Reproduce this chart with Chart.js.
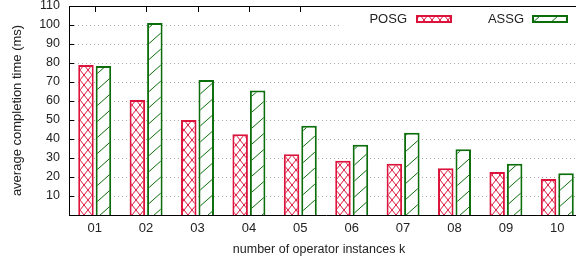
<!DOCTYPE html>
<html lang="en">
<head>
  <meta charset="UTF-8" />
  <title>Completion time</title>
  <script src="https://cdn.jsdelivr.net/npm/chart.js"></script>
  <style>
    html, body { margin: 0; padding: 0; background: #fff; overflow: hidden; width: 576px; height: 262px; }
    #wrap { width: 584px; height: 262px; }
  </style>
</head>
<body>
  <div id="wrap"><canvas id="chart" width="584" height="262"></canvas></div>

  <script>
    const categories = ['01', '02', '03', '04', '05', '06', '07', '08', '09', '10'];
    const posgValues = [79, 60.5, 50, 42.5, 32, 28.5, 27, 24.6, 22.6, 19];
    const assgValues = [78.4, 101, 71, 65.5, 47, 37, 43.3, 34.6, 27, 22];
    const yTicks = [10, 20, 30, 40, 50, 60, 70, 80, 90, 100, 110];

    const RED = '#dc143c';
    const GREEN = '#0b6e0b';
    const FONT = 'Liberation Sans, Arial, sans-serif';

    // crosshatch tile for POSG
    function crossPattern() {
      const c = document.createElement('canvas');
      c.width = 8; c.height = 10;
      const g = c.getContext('2d');
      g.fillStyle = '#fff';
      g.fillRect(0, 0, 8, 10);
      g.strokeStyle = RED;
      g.lineWidth = 1;
      g.beginPath();
      g.moveTo(0, 0); g.lineTo(8, 10);
      g.moveTo(0, 10); g.lineTo(8, 0);
      g.stroke();
      return g.createPattern(c, 'repeat');
    }

    // single diagonal tile for ASSG
    function slashPattern() {
      const c = document.createElement('canvas');
      c.width = 18; c.height = 16;
      const g = c.getContext('2d');
      g.fillStyle = '#fff';
      g.fillRect(0, 0, 18, 16);
      g.strokeStyle = GREEN;
      g.lineWidth = 1;
      g.beginPath();
      g.moveTo(-1, 16 + 16 / 18); g.lineTo(19, -16 / 18);
      g.stroke();
      return g.createPattern(c, 'repeat');
    }

    const posgFill = crossPattern();
    const assgFill = slashPattern();

    // dotted grid under the bars
    const dottedGrid = {
      id: 'dottedGrid',
      beforeDatasetsDraw(chart) {
        const ctx = chart.ctx;
        const area = chart.chartArea;
        const y = chart.scales.y;
        ctx.save();
        ctx.strokeStyle = '#a8a8a8';
        ctx.lineWidth = 1;
        ctx.setLineDash([1, 3]);
        ctx.beginPath();
        yTicks.forEach(v => {
          if (v >= 110) return;
          const py = Math.round(y.getPixelForValue(v)) + 0.5;
          ctx.moveTo(area.left + 1, py);
          ctx.lineTo(area.right, py);
        });
        ctx.stroke();
        ctx.restore();
      }
    };

    // frame, inward ticks, legend, x title
    const extras = {
      id: 'extras',
      afterDraw(chart) {
        const ctx = chart.ctx;
        const area = chart.chartArea;
        const x = chart.scales.x;
        const y = chart.scales.y;
        ctx.save();
        ctx.strokeStyle = '#000';
        ctx.lineWidth = 1;
        ctx.beginPath();
        ctx.moveTo(area.left, area.top + 0.5);
        ctx.lineTo(area.right, area.top + 0.5);
        categories.forEach((c, i) => {
          const px = Math.round(x.getPixelForValue(i)) + 0.5;
          ctx.moveTo(px, area.top);
          ctx.lineTo(px, area.top + 6);
        });
        yTicks.forEach(v => {
          const py = Math.round(y.getPixelForValue(v)) + 0.5;
          ctx.moveTo(area.left, py);
          ctx.lineTo(area.left + 5, py);
        });
        ctx.stroke();

        // key
        ctx.fillStyle = '#fff';
        ctx.fillRect(340, area.top + 1, 250, 23);
        ctx.font = '13px ' + FONT;
        ctx.textAlign = 'right';
        ctx.textBaseline = 'middle';
        const items = [
          { label: 'POSG', fill: posgFill, color: RED, textX: 407, boxX: 416 },
          { label: 'ASSG', fill: assgFill, color: GREEN, textX: 524, boxX: 532 }
        ];
        items.forEach(it => {
          ctx.fillStyle = '#222';
          ctx.fillText(it.label, it.textX, 19);
          ctx.fillStyle = it.fill;
          ctx.fillRect(it.boxX, 15, 36, 8);
          ctx.strokeStyle = it.color;
          ctx.lineWidth = 2;
          ctx.strokeRect(it.boxX + 1, 16, 34, 6);
        });

        // x title
        ctx.fillStyle = '#222';
        ctx.font = '12.5px ' + FONT;
        ctx.textAlign = 'center';
        ctx.fillText('number of operator instances k', 319, 250);
        ctx.restore();
      }
    };

    new Chart(document.getElementById('chart'), {
      type: 'bar',
      data: {
        labels: categories,
        datasets: [
          {
            label: 'POSG',
            data: posgValues,
            backgroundColor: posgFill,
            borderColor: RED,
            borderWidth: 2,
            borderSkipped: 'bottom'
          },
          {
            label: 'ASSG',
            data: assgValues,
            backgroundColor: assgFill,
            borderColor: GREEN,
            borderWidth: 2,
            borderSkipped: 'bottom'
          }
        ]
      },
      options: {
        responsive: false,
        animation: false,
        layout: { padding: { top: 6, right: 1, left: 0, bottom: 0 } },
        datasets: { bar: { categoryPercentage: 0.68, barPercentage: 0.886 } },
        plugins: { legend: { display: false }, tooltip: { enabled: false } },
        scales: {
          x: {
            grid: { display: false, drawTicks: false },
            border: { display: true, color: '#000', width: 1 },
            ticks: { color: '#222', font: { family: FONT, size: 13 }, padding: 6, maxRotation: 0 },
            afterFit(s) { s.height = 47; s.paddingLeft = 0; s.paddingRight = 0; }
          },
          y: {
            min: 0,
            max: 110,
            grid: { display: false, drawTicks: false },
            border: { display: true, color: '#000', width: 1 },
            ticks: {
              stepSize: 10,
              color: '#222',
              font: { family: FONT, size: 12.5 },
              padding: 9,
              callback: v => (v === 0 ? '' : v)
            },
            title: {
              display: true,
              text: 'average completion time (ms)',
              color: '#222',
              font: { family: FONT, size: 13 },
              padding: { top: 10, bottom: 0 }
            },
            afterFit(s) { s.width = 69; s.paddingTop = 0; s.paddingBottom = 0; }
          }
        }
      },
      plugins: [dottedGrid, extras]
    });
  </script>
</body>
</html>
